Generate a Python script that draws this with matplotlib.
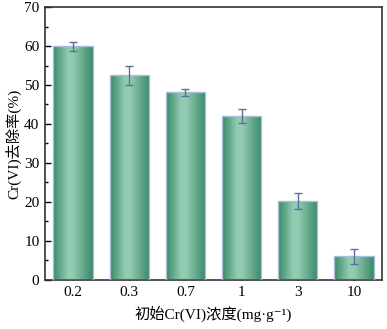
import matplotlib
matplotlib.use('Agg')
import matplotlib.pyplot as plt
import numpy as np
from matplotlib.colors import LinearSegmentedColormap
from matplotlib.ticker import MultipleLocator

# data
concentrations = ['0.2', '0.3', '0.7', '1', '3', '10']
removal = [59.9, 52.5, 48.1, 42.0, 20.3, 6.1]
removal_err = [1.2, 2.4, 1.0, 1.85, 2.1, 1.9]

FONT = ['Liberation Serif', 'Noto Sans CJK SC', 'DejaVu Sans']
plt.rcParams['font.family'] = FONT
plt.rcParams['font.size'] = 11

DARK = '#3b8869'
LIGHT = '#92ccb3'
EDGE = '#a9bedc'
ERR = '#5b6f9e'

grad_cmap = LinearSegmentedColormap.from_list(
    'bar_grad', [(0.0, DARK), (0.38, LIGHT), (0.5, LIGHT), (1.0, DARK)], N=256)


def plot(output_file):
    fig = plt.figure(figsize=(3.87, 3.29), dpi=100)
    ax = fig.add_axes([0.1163, 0.149, 0.871, 0.8297])

    xs = np.arange(len(concentrations))
    bars = ax.bar(xs, removal, width=0.7, color='none', edgecolor=EDGE, linewidth=1.0, zorder=3)

    # horizontal gradient inside every bar
    grad = np.linspace(0, 1, 256).reshape(1, -1)
    for b in bars:
        x0, w, h = b.get_x(), b.get_width(), b.get_height()
        im = ax.imshow(grad, cmap=grad_cmap, aspect='auto', extent=(x0, x0 + w, 0, h),
                       interpolation='bicubic', zorder=2)
        im.set_clip_path(b)

    ax.errorbar(xs, removal, yerr=removal_err, fmt='none', ecolor=ERR, elinewidth=1.0,
                capsize=3, capthick=1.0, zorder=4)

    ax.set_xlim(-0.5, len(concentrations) - 0.5)
    ax.set_ylim(0, 70)
    ax.set_xticks(xs)
    ax.set_xticklabels(concentrations)
    ax.yaxis.set_major_locator(MultipleLocator(10))
    ax.yaxis.set_minor_locator(MultipleLocator(5))
    ax.tick_params(axis='both', which='both', direction='in', labelsize=11, pad=4)
    ax.tick_params(axis='both', which='major', length=4, width=1)
    ax.tick_params(axis='y', which='minor', length=2, width=1)
    ax.tick_params(axis='x', which='minor', bottom=False)

    for s in ax.spines.values():
        s.set_linewidth(1.2)
        s.set_color('#333333')

    ax.set_xlabel('初始Cr(VI)浓度(mg·g⁻¹)', fontsize=11, labelpad=5)
    ax.set_ylabel('Cr(VI)去除率(%)', fontsize=11, labelpad=2)

    fig.savefig(output_file, dpi=100)


if __name__ == '__main__':
    plot('out.png')
